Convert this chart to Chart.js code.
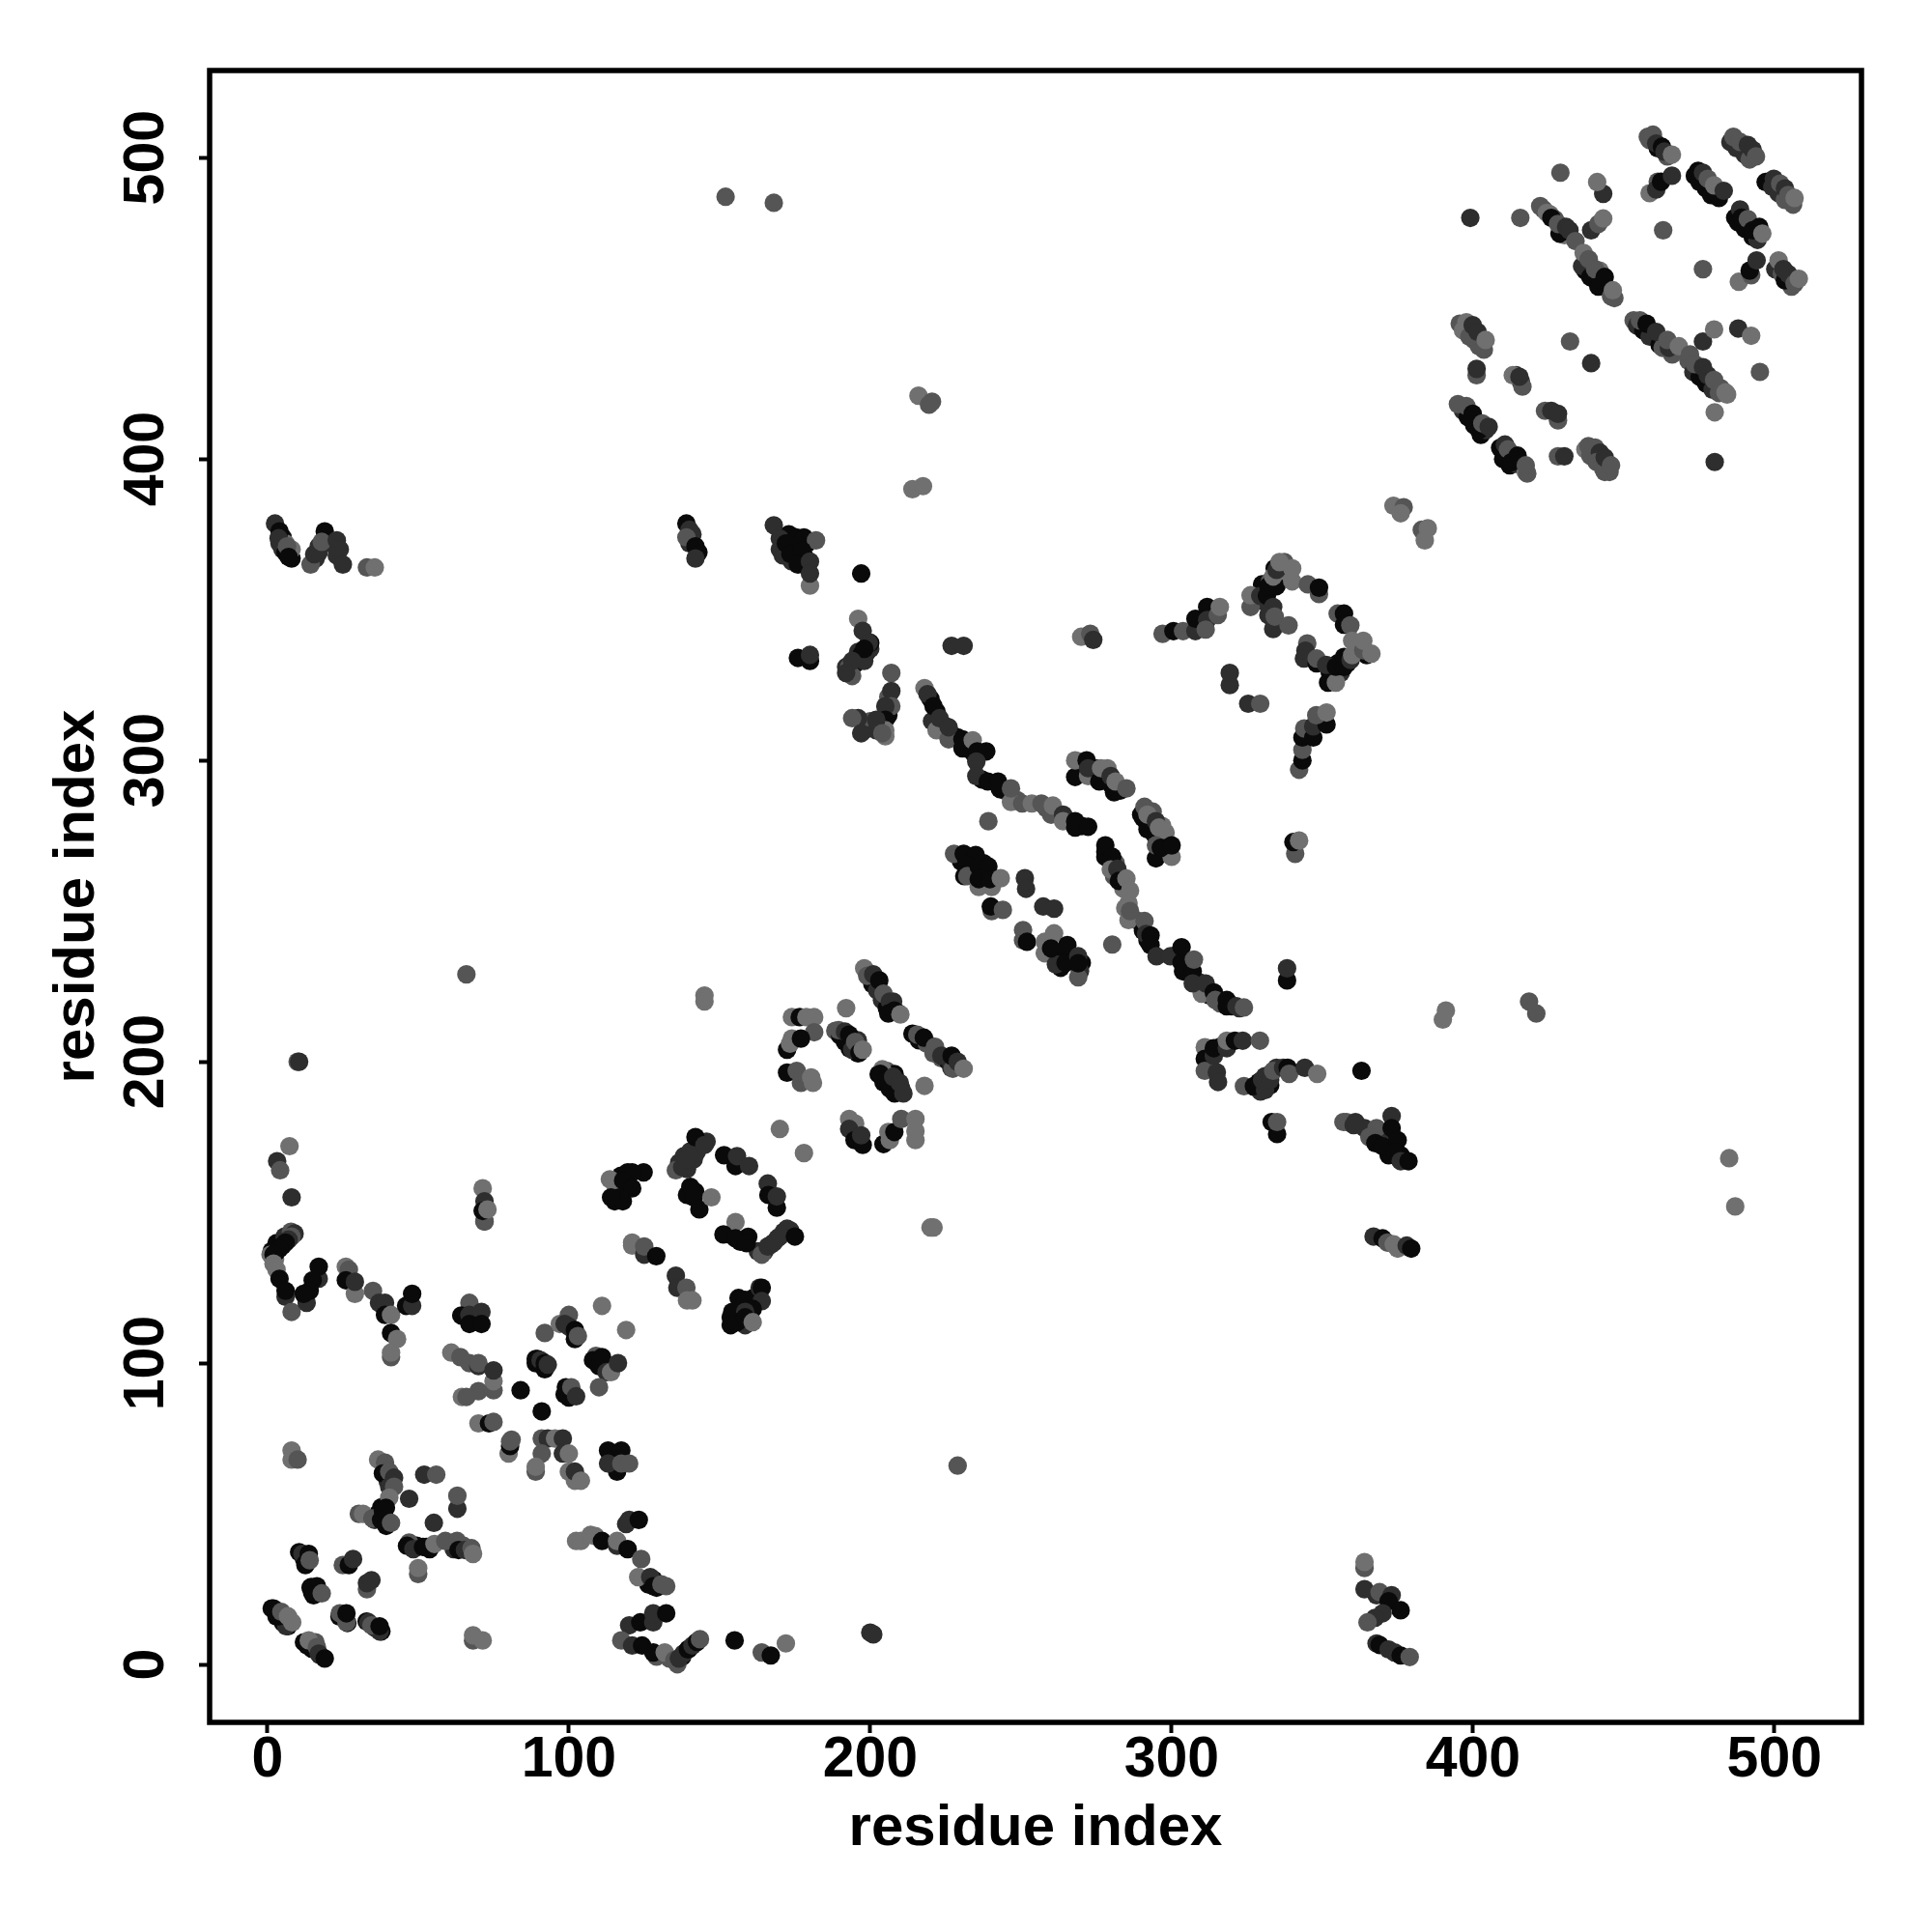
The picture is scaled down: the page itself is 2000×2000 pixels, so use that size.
<!DOCTYPE html>
<html><head><meta charset="utf-8">
<style>html,body{margin:0;padding:0;background:#fff}canvas{display:block}</style>
<script src="https://cdn.jsdelivr.net/npm/chart.js@4"></script>
</head><body><canvas id="c" width="2000" height="2000"></canvas>
<script>
const xTitle="residue index", yTitle="residue index";
const tickValues=[0,100,200,300,400,500];
const levelGray=["#0a0a0a","#2e2e2e","#555555","#707070"];
// [residue i, residue j, contact level]
const blockBackLower=[[3,139.8,0],[5.7,142,1],[7.8,143.6,2],[1.4,137.2,0],[2.5,134.5,3],[38.8,65,1],[39.9,60.8,1],[37.8,52.2,0],[36.7,50,0],[38.8,49,0],[35.6,48,1],[10.5,37.3,0],[12.1,35.1,0],[12.6,33,0],[13.7,35.1,2],[14.3,25.5,0],[14.8,23.9,0],[16.9,23.9,1],[23.9,15.9,0],[26.5,13.8,0],[32.9,14.3,0],[35.6,12.2,1],[37.8,11,0],[1.4,18.6,0],[3,15.9,0],[5.2,13.8,0],[6.8,12.7,0],[5.2,16,2],[12.1,7.4,0],[14.8,5.2,0],[17.4,3.1,1],[15.9,7.4,2],[126.4,26.6,0],[128,28.2,0],[129.1,25.5,0],[129.1,2.6,2],[133.4,2,2],[136,1.5,0],[137.6,2.6,0],[139.8,5.2,0],[142.4,7.4,1],[136,0.1,2],[49.5,39.4,0],[53.8,38.3,0],[61.3,40.5,2],[65,39.4,2],[61.8,38.3,1],[89.6,101.4,0],[101.3,89.6,2],[368,23,1]];
const blockBackCenter=[[200.7,225.8,0],[202.3,223.7,1],[203.9,220.5,1],[205.5,217.8,0],[207.6,220,1],[209.2,216.2,0],[214,209.3,0],[216.2,207.1,0],[218.8,206,2],[221,202.8,2],[223.6,201.2,2],[225.8,200.2,0],[226.9,198,1],[188.4,210.3,2],[190,208.7,0],[191.6,206.6,0],[193.2,204.4,0],[195.9,202.8,0],[195.9,207.1,1],[202.8,195.9,0],[204.4,193.2,0],[206.5,191.1,0],[208.1,189.5,0],[205.5,197,2],[208.1,195.9,0],[210.3,191.1,1],[136.6,166.5,1],[138.2,168.7,1],[140.3,170.3,1],[141.9,171.3,1],[143.5,171.9,1],[145.7,173.5,1],[139.2,164.4,1],[141.4,167.6,1],[162.7,137.1,1],[164.9,137.1,1],[167,139.3,1],[169.2,141.4,1],[171.3,143.6,1],[173.4,144.1,1],[153.7,142.5,0],[156.9,140.3,0],[159.5,141.9,0],[117.3,162.2,0],[119.5,163.3,0],[118.9,159,0],[115.2,153.7,0],[117.9,153.7,0],[141.9,156.9,0],[139.2,155.8,0],[167,155.8,0],[161.2,121.6,0],[156.3,121.6,0],[156.3,117.4,0],[158.5,112.6,1],[153.7,115.2,0],[192,331,1],[193,331,2],[195,332,0],[196,334,2],[196,336,1],[197,335,0],[199,336,0],[200,337,1],[200,339,0],[198,333,1],[194,328,2],[198,310,0],[204,312,1],[206,315,0],[206,321,2],[205,308,3],[200,313,2],[196,314,1]];
const blockBackDiagonal=[[220,320.4,0],[222,316.1,0],[220.5,313,1],[224.2,311.9,1],[226.9,308.7,1],[229,307.6,0],[232.2,303.9,0],[234.4,302.2,0],[237,293.7,0],[244.5,290,1],[248.8,286.8,2],[258.4,284.1,2],[262.2,282,1],[266.4,279.8,0],[270.2,278.2,0],[278,269.7,0],[281.4,266,2],[280.9,261.6,2],[284,257.4,3],[284.6,251,3],[288.9,246.7,2],[290.5,243.5,0],[292,240.3,0],[301.7,235.5,1],[305.4,232.8,0],[305.4,229.6,0],[309.2,226.4,1],[312.4,222.1,0],[316.1,219.4,2],[319.9,218.4,0],[322.5,217.8,1],[269.6,299.6,3],[275,297.4,1],[277.7,294.2,2],[279.8,292.1,0],[283,290,0],[278.7,297.4,3],[280.9,289.4,0],[289.9,282,0],[292,278.7,0],[293.7,283,2],[296.9,278.2,3],[294.2,275.5,0],[296.4,274.5,1],[230.1,266.5,0],[233.3,268,0],[237.6,265.9,0],[238.1,261.6,0],[231.2,261.6,0],[259.5,237.6,0],[261.6,234.9,0],[267,233.9,0],[265.4,235.5,0],[263.2,231.2,0],[270.2,232.8,0],[269.6,230.1,1],[327.3,191.7,0],[329,193.3,0],[331,195.2,1],[332.7,195.9,1],[334.8,198,1],[329.5,190.1,1],[332.7,192.2,0],[311.8,204.5,0],[316.1,205,1],[330,358.4,0],[331,356.2,0],[332.6,359.4,2],[334.2,363.7,0],[334.8,357.8,0],[337.4,365.8,2],[339,362.1,3],[328.4,353.6,1],[331,352.5,1],[352.4,329.5,0],[355.1,332.2,0],[356.1,329,1],[358.3,332.2,0],[361,335.9,2],[361.5,338,3],[362.6,338,2],[364.7,334.9,0],[354,326.9,2],[371,175,0],[372,172,0],[373,176,0],[369,174,1],[376,169,0],[372,169,0]];
const blockBackUpper=[[5,370,1],[4,372,1],[6,369,0],[8,367,0],[5,374,0],[16,367,1],[17,371,1],[20,373,1],[21,372,1],[23,368,1],[6,372,3],[8,370,3],[140,372,1],[143,369,0],[141,375,1],[172,370,0],[174,372,0],[176,371,0],[178,368,0],[171,368,1],[174,366,1],[178,365,1],[179,372,0],[173,375,0],
[423.4,482.8,2],[425.5,481.2,3],[427.1,479.6,2],[429.8,477,1],[432,474.3,2],[430.3,474.3,3],[437.3,466.8,2],[437.3,462.5,0],[439.4,463.6,2],[440,459.8,0],[442,462.5,3],[441.6,459.3,0],[444.2,457.2,0],[446.9,453.4,2],[458.6,505.8,2],[461.3,503.1,0],[464.5,500.4,2],[485.4,505.2,1],[487.5,503.1,1],[490.2,501,1],[491.8,499.4,2],[473.6,494,0],[475.2,491.9,0],[477.3,489.8,0],[479,487.6,0],[481.6,486.6,0],[497.1,491.9,0],[499.3,490.3,1],[501.4,488.2,1],[503.5,486,2],[506.2,484.4,2],[487,480.1,0],[488,478.5,0],[490.2,476.4,0],[492.8,473.7,0],[494.4,472.7,1],[500.3,463,1],[502.5,461.4,2],[505.7,457.2,2],[503.5,459.3,0],[395.6,444.9,2],[396.7,442.7,3],[400.4,439.5,2],[402,437.4,2],[403.6,436.3,2],[453.3,446,2],[454.4,444.3,1],[456.5,442.7,0],[458.6,440.6,1],[461.9,437.9,0],[462.9,436.9,2],[466.1,434.7,2],[471.5,432.6,2],[473.1,428.9,1],[475.2,427.3,0],[477.3,425.1,0],[479.5,423,1],[481.6,421.9,2],[484.3,421.4,3],[396.7,416,1],[398.3,413.9,0],[400.4,411.2,0],[402.6,408,0],[404.2,409.6,1],[409,403.7,0],[410,400,0],[412.2,397.9,0],[414.3,398.4,1],[417.5,395.7,3],[437.3,403.2,3],[438.9,401.1,2],[441.6,399.5,1],[443.2,396.8,2],[445.3,395.7,2],[414.3,427.8,1],[415.9,425.7,1]];
const blockLowerLeft=[[8,155,1],[9,143,1],[8,142,2],[7,141,1],[6,140,0],[5,139,0],[1,136,3],[4,138,0],[3,137,0],[2,136,0],[2,133,3],[3,131,3],[4,128,0],[6,122,1],[6,124,0],[8,117,2],[17,128,1],[17,132,0],[15,127.5,0],[13,120,1],[14,124,0],[12,123,0],[26,132,3],[27,131,2],[26,127.5,0],[29,123,3],[29,127,1],[35,124,2],[37,120,1],[39,120,1],[39,116,0],[41,116,3],[41,110,0],[43,108,3],[41,102,2],[41,103.5,3],[46,119,0],[48,119,1],[48,123,0],[71.4,158,3],[72,147,1],[72,147,2],[72,153.7,1],[71.4,150.5,0],[73,151,3],[7.3,172,3],[3.2,167,1],[4.2,164,2],
[67,120,2],[64.3,115.8,0],[67,116,1],[71,117,1],[67,113,0],[71,113,0],[61,103.5,3],[64,102,2],[67,100,2],[70,99,1],[70,100,2],[75,91,2],[75,94,3],[75,97.6,1],[70,90.7,2],[64.5,88.8,3],[66,88.8,2],[84,91,0],[91,84,0],[70,80,3],[73.5,80,0],[75,80.5,2],[80,70,3],[80.5,72.5,0],[80.5,74,2],[81,74.6,2],[91,75,2],[93,75,1],[95.4,75,3],[98,75,1],[91,70,2],[98,70,1],[100,70,3],[89,64,2],[89,65.6,3],[102,61,3],[100,64,3],[102,64,1],[104,61,3],[89,100,0],[89,101.4,0],[90.6,101,1],[92,98,0],[92,100,0],[93,99.5,1],[98.6,89.6,0],[100,88.6,0],[99,92,0],[100.8,92,2],[102.4,89,1],[92,110,2],[97,113,3],[100,116,2],[98.6,113,1],[100.2,112,1],[102,108,0],[102,111,0],[103,109,2],[111,119,3],[119,111,3],[109,102.4,2],[108,101,0],[110,99,0],[111,102,0],[112.5,97,1],[114,97,3],[116.3,100,1],[110,92,2],[113,71,0],[117.4,71,0],[116,64,0],[113,66.7,1],[117.4,66.7,2],[120,66.7,2],[8,71,3],[8,68,3],[10,68,2],
[36.7,68,3],[39,67,2],[38.3,63.4,0],[40.4,64,2],[42,62,1],[40.4,59,1],[42,59,2],[40.4,55.4,3],[30.3,50,2],[31.7,50,3],[34.8,48.5,2],[39.3,52,0],[38.3,51,0],[37.7,48,0],[39.4,46,0],[41,47,2],[52,63,1],[56,63,2],[47,55,1],[63,51.7,1],[63,56,2],[55.2,47,1],[50,30,2],[50,32,3],[47,40.5,2],[46.3,39.4,0],[48.4,38.3,1],[51.6,39,0],[52.7,39,0],[55.4,40,3],[59,41,2],[62.9,41,2],[63.4,38,0],[65.5,38,1],[67.7,38.6,2],[68.2,36.7,3],
[11.6,36.7,1],[13.7,36.7,0],[12.6,33.5,0],[14,34.6,2],[25,33,2],[27,33,0],[28.4,35,1],[33,25,2],[33,27,1],[34.5,28,1],[14.5,25.7,0],[16.4,26,0],[15.3,23,0],[18,23.6,2],[6.2,12.7,1],[2,18.6,0],[3.6,16,0],[4.6,17.5,2],[6.8,16,3],[8.2,14,3],[24,17,2],[26.2,14,2],[26.2,17,0],[37.2,11,1],[33.5,14,1],[34.5,13,2],[37.2,12.7,0],[13.2,6.3,0],[13.7,8,3],[16.4,5.8,2],[17,3.6,1],[19,2,0],[68.2,8,2],[68.2,9.7,3],[71.4,8,3]];
const blockLowerMiddle=[[102.4,41,3],[104,41,3],[107.2,43,3],[108.8,42.6,3],[111,41,0],[116,39.4,1],[116,41,3],[119.5,38.3,0],[119,46.6,1],[120,48,1],[123.2,48,0],[124,35,2],[123,29,3],[127,29,1],[128,26,0],[130.7,26.6,2],[132.3,26,2],[120,13,1],[123.7,14,0],[128,14,1],[128,17,1],[132.3,17,0],[117.4,8,2],[121,6.3,1],[124.3,6.3,0],[128,4,0],[131.8,4,3],[135,1.5,2],[136.5,2,1],[138,3.6,1],[139.5,5,0],[141,6.3,1],[142.5,7.5,0],[143.5,8.4,2],[155,8,0],[164,4,2],[167,3,0],[172,7,3],[200,10.6,1],[201,10,1],[229,66,2],
[364,32,2],[364,34,3],[364,25,1],[369,24,2],[373,23,1],[372,21,0],[376,18,0],[370,17,1],[367.5,15.5,1],[365,14,2],[368,7,1],[369,6.5,0],[372,5,1],[374,4,1],[376,3,0],[379,2.5,2]];
const blockCenterLow=[[145,222,3],[145,220,3],[198,231,3],[199,228.5,2],[201,229,1],[203,227,0],[204.4,222.6,2],[206.5,220,1],[206,216,0],[208,217,0],[210,215.7,3],[215.6,209,2],[217.8,208,0],[221.5,205,2],[223.6,202,1],[227.4,197.7,2],[227,202,0],[229,200,1],[231,197.7,3],[192,217.8,3],[189.5,210.5,2],[191.6,210,1],[193,209,0],[194,204,1],[195,206.6,2],[196.4,203,0],[197.5,204,3],[204,197.5,3],[203.3,196,0],[205.5,194,0],[207.6,195,1],[209,190,0],[209.8,193,1],[211,189.5,1],[218,192,3],
[174,214.8,3],[176.6,214.8,0],[178.8,214.8,3],[181.4,214.8,3],[181.4,209.8,2],[172.4,204,0],[174,207.7,3],[173.4,206,3],[177,207.7,0],[172.4,196.4,0],[175.6,197,2],[177,193,2],[180.4,194.8,3],[181,193,3],[193,181,3],[195,179.5,3],[193,177.7,1],[194.8,174,0],[197.5,172.4,0],[197,175.6,1],[204.4,172.7,0],[206,176.7,3],[206.5,174,3],[208,176.7,0],[210.3,181,2],[215,174,3],[215,177,3],[215,181,3],[170,177.7,3],[178,169.7,3],[220,145,3],[221,145,3],
[135.5,164,2],[137.6,165,1],[139.2,167.6,1],[142.4,170,1],[142,175,0],[145,172.4,1],[140.3,158.5,0],[141.4,155,0],[143.3,151,0],[147.3,155,3],[151.5,169,0],[155.3,165.4,0],[155.8,168.7,1],[159.8,165.4,1],[166,159.6,1],[166.2,155.8,0],[169,151.6,0],[169,155.3,1],[155.3,146.8,3],[151.3,142.7,0],[155.3,141.4,0],[159,139.8,0],[164,136,2],[166,138.7,1],[168,140,1],[170,142,1],[172.4,144.6,1],[175,142,0],
[113.6,161,3],[115.7,158,3],[124.8,163.3,0],[121,163.3,0],[118,160.6,0],[121,158,0],[116.8,155,0],[114,155,0],[121,139,3],[121,140,3],[125,136,1],[125,138.7,2],[129,135.5,0],[135.5,129,1],[136,125,1],[139,125,2],[139.2,120.8,3],[141,120.8,3],[163.3,125,1],[164,125,0],[158.5,121,0],[164,120.6,1],[161,118,0],[154.2,117,0],[158.5,117,1],[153.7,112.6,0],[155.8,113.6,0],[158.5,115.2,0],[161,113.6,3]];
const blockDiagonal=[[207,329,2],[207,323,1],[207,318,2],[205,318,1],[205,313.5,0],[205,310,3],[202,313.5,1],[202,310,1],[196,347,3],[197.5,343,1],[199.5,339,1],[198,337,0],[194,333,1],[192,329,1],[194,314,2],[197,309,1],[204,309,2],[197,362,0],[176,334,0],[180,333,0],[180,335,1],
[218,324,3],[219,322,1],[221,318,0],[222,310,3],[223,314,1],[226,307,2],[226,311,1],[230.6,304,0],[230.6,307,0],[234,306.7,3],[235.5,303,0],[238.5,303,0],[235.2,299.6,1],[235.2,294.8,1],[239,293,0],[242.4,293,0],[243,290.5,0],[246.7,286.2,3],[246.7,290.7,2],[250.4,285.7,2],[253.6,285.7,3],[256.8,285.7,2],[260,282,2],[260.6,285,3],[264,282,1],[264,279.8,3],[268,277.7,0],[268,279.8,0],[272.3,278,0],[278,268,0],[278,271.8,0],[280.3,268,0],[279.8,263.8,3],[282,264,1],[282.5,260,0],[285,260.8,3],[286.2,256.8,3],[285.7,247,3],[285.7,252.6,3],[286.2,250,2],[291,246.7,2],[291.5,242.4,1],[293,241.9,0],[293,238.7,0],[295,235,1],[299.6,235,1],[303.3,233,0],[303.3,238,0],[303.8,230,0],[307,230,0],[307.4,233.9,2],[310,222.6,3],[307,226,1],[311.3,226,1],[314,223,0],[314.5,220.5,2],[318.3,218.4,0],[318.3,220.5,0],[321.5,218.4,1],[324,218,2],
[268,294.5,0],[268,300,3],[271.8,300,0],[272.3,294.8,3],[272.3,297.4,1],[276,293,0],[276.6,297.4,3],[279.8,294.8,1],[281.4,290,0],[281.4,293,3],[285,290.7,2],[290.5,280.9,0],[291,284.6,2],[292,277.1,0],[292,282,3],[294.8,279.8,1],[295.8,277.7,3],[298,276,3],[294.8,267.5,0],[294.8,271.8,2],[300,268,3],[296.4,271,0],[300,271.8,0],
[239.2,279.8,2],[227.8,269,2],[231,269,0],[235,268.6,0],[231.7,265.4,0],[232.2,261.6,2],[236,258,3],[240.3,258,3],[236,264.8,0],[239.2,264.8,0],[236,260.6,0],[239.7,260.6,0],[243.3,260.9,3],[251.3,260.9,1],[251.7,257.4,1],[240.3,250,2],[240,251.5,0],[244,250.4,2],[257.4,251.5,1],[261,250.8,1],[250.7,240.3,2],[250.7,243.7,2],[252,239.8,0],[257.9,236,3],[257.9,239.8,3],[261,242.6,3],[261.6,232.3,1],[260,237.6,0],[264.8,232.8,0],[265.4,238.7,0],[269,228,2],[269,235,1],[269,232.7,0],[280.3,238.9,2],
[338.3,227,0],[338.3,231,1],[341,269,2],[340.4,272.9,0],[342.3,273.4,3],[342.3,296.9,2],[343.4,300,0],[343.4,303.5,2],[343.4,307.6,0],[344,310.6,2],[347,307.6,0],[347,311.3,1],[351.4,311.9,0],[348,315,2],[351.4,315.9,3],
[311,204.8,3],[311,201,0],[311,197,2],[314,202,1],[314,204.5,0],[315,196.5,1],[315.4,193.3,1],[318.3,204.5,1],[318.3,207,3],[321,207,0],[323.6,207,1],[329.3,207,2],[324,191.9,2],[327.3,191.9,0],[331,190.6,1],[330,194,1],[332.7,194,1],[333.7,197,2],[337,198,1],[338.5,198,0],[339,196,2],[344.2,198,1],[348.3,196,3],[335,176,0],[333.2,180,0],[335,180,2],
[363,197,0],[357,180,2],[358,180,2],[360.4,179,1],[361,180,1],[364,178,1],[368,178,2],[373,182,1],[373,178,0],[365.6,175,2],[367.6,173,0],[370,172,0],[375,174,0],[374,170,0],[376,167,1],[378.6,167,0],[367,142,1],[370,141.4,0],[371.6,140,2],[373.7,139.4,3],[375,138,3],[378,139,1],[379.5,138,0],
[485,168,3],[487,152,3],[390,214,3],[391,217,3],[418.6,220,2],[421,216,2],[66,229,2],[152,487,2],[168,485,2],[10,200,2],[10.5,200,1],[270,341,3],[273,342,2],[274,340,1],[227,338,1],[231,338,1],[216,421,3],[220.5,419,2],[219.5,418,2],[214,390,3],[217.5,391,3]];
const blockUpperLeft=[[2.5,378.6,1],[4,376,0],[3.7,373.7,1],[6.5,371,2],[7,367.5,0],[14.3,365,2],[15.5,368.4,1],[17,369,1],[19,376,0],[18,372.5,2],[23,373,1],[24,370,1],[25,365,1],[33,364,2],[35.6,364,3],[139,378.6,0],[140,376.5,1],[139,374,2],[142,371,0],[142,367,1],[168,378,1],[170,373.6,1],[170,370,1],[172,372,0],[175.4,374,0],[178,374,0],[182,373,2],[173.5,368.5,0],[177.4,369.6,0],[176,365,0],[180,366,1],[180,358,3],[180,362,1]];
const blockUpperMiddle=[[297,342,2],[300.6,342.9,0],[303.8,342.9,2],[307.9,342.9,1],[307.9,347,0],[311.8,350.9,0],[311.8,346.6,1],[311.3,343.4,2],[315.3,348.2,2],[316,350.9,3],[326.2,350.9,2],[326.2,354.8,3],[329.4,354.6,1],[331.6,354.6,0],[332.1,357.8,0],[333.7,361,3],[334.8,363.2,1],[335.8,365.8,3],[340,359.4,3],[340,363.7,3],[333.7,350.9,1],[332.1,348.2,1],[333.7,343.6,1],[334.2,347.7,2],[338.8,344.8,2],[345.2,358.4,2],[348.9,355.2,2],[348.9,357.3,0],[355.1,348.7,2],[357.2,348.7,0],[357.2,345,0],[359.3,344.8,2],
[345,338.8,2],[344.4,336.4,1],[343.9,333.8,1],[348.1,332.2,0],[348.1,333.8,2],[351.9,325.8,0],[354.5,325.8,3],[351.3,331.7,1],[354.5,331.1,0],[357.2,331,0],[357.2,334.3,0],[359.4,333.3,1],[359.9,334.9,3],[359.9,339.7,3],[363.6,336.5,2],[363.6,339.7,3],[366.3,335.4,3],[319.3,325,1],[319.3,329,1],[325.4,318.8,1],[329.4,318.8,2],[373.6,384.5,3],[377,384,2],[376,382,3],[383,376.5,2],[385,377,3],[384,373,3]];
const blockUpperRight=[[399.1,480,1],[415.7,480,2],[422.3,483.9,2],[424.5,481.7,3],[426,480,0],[428.7,474.8,0],[428.2,478,2],[430.9,477,1],[432,475.9,1],[434,472.3,2],[436.2,464,1],[436.7,468.4,3],[438.4,466.3,2],[438.9,460.4,0],[440.5,463,2],[441.6,457.2,0],[443.7,460.4,0],[445.8,454,2],[446.4,456,3],[429,495,2],[443.2,488,1],[441.2,491.9,3],[439.2,475.9,1],[441.6,478,2],[443.2,479.8,3],
[458,506.9,2],[459.7,507.6,2],[460.8,504.7,1],[462.7,503.6,0],[463.5,502,1],[466,501,3],[458.6,488.2,3],[461.3,492,2],[460.8,489.4,1],[462.4,492,0],[466,494,1],[463.1,475.9,2],[476.3,463,2],[486.4,506.9,2],[488.6,505.2,2],[491.2,504.2,1],[492.8,502.6,1],[493.9,500.4,2],[474.7,495.6,0],[476.3,495,1],[477.9,493,2],[480.6,488.2,0],[480,490.8,3],[483.2,489,1],[499.8,493,1],[501.9,491.4,2],[503.5,489.8,1],[504.6,487.6,2],[506.7,486.6,3],[488.6,482.8,1],[489.1,480.1,0],[491.2,479.6,2],[492.8,475.9,0],[495,477,0],[496,474.8,3],[488.2,458.8,3],[492.3,461,2],[491.8,462.5,0],[494.1,465.9,1],[501.4,465.9,3],[503,463,1],[504.6,461.4,1],[506.7,458.2,2],[508.1,459.8,3],
[397.8,445.4,3],[398.8,440.6,2],[399.9,444.4,1],[401.5,442.2,1],[404.2,439.5,3],[432.2,439,2],[439.2,431.8,1],[401.2,427.8,2],[401.2,429.9,1],[413.2,427.8,3],[416.4,424,2],[415.4,427.3,1],[455.4,446,2],[457.6,444.9,0],[460.8,442.2,1],[465,436.9,1],[464.5,439.5,2],[468.3,437.4,3],[472,434.7,2],[476.3,439,1],[480,443,3],[488,443.3,1],[492.3,440.9,3],[495.2,428.9,2],[473.6,431.5,2],[476.3,430.5,1],[477.9,427.8,1],[480,426.2,2],[482.2,423.5,2],[483.8,422.1,3],[480.2,415.5,3],[480.2,399,1],
[395,418.2,2],[397.8,417.6,2],[399.9,415,0],[402,409.6,0],[403.1,411.8,2],[405.2,410.7,1],[423.9,416,2],[428.2,412.8,2],[426,416,1],[428.2,415,1],[410.6,401.1,0],[410.6,404.8,1],[411.6,403.2,2],[412.7,398.9,0],[414.8,401.1,0],[418,395.2,2],[417.5,397.9,2],[428.2,400.9,2],[430.3,400.9,1],[438.3,404.3,2],[440.5,403.8,2],[442.1,402.1,1],[443.7,395.7,2],[441,399,2],[443.7,400.5,1],[445.8,397.9,2]];

const contacts=[...blockBackLower,...blockBackCenter,...blockBackDiagonal,...blockBackUpper,...blockLowerLeft,...blockLowerMiddle,...blockCenterLow,...blockDiagonal,...blockUpperLeft,...blockUpperMiddle,...blockUpperRight];
const boxPlugin={id:"box",afterDraw(ch){const a=ch.chartArea,c=ch.ctx;c.save();c.strokeStyle="#000";c.lineWidth=5.5;c.strokeRect(a.left,a.top,a.right-a.left,a.bottom-a.top);c.restore();}};
const labelFont={family:"'Liberation Sans'",size:60,weight:"bold"};
const tickFont={family:"'Liberation Sans'",size:59,weight:"bold"};
new Chart(document.getElementById("c"),{
  type:"scatter",
  data:{datasets:[{data:contacts.map(p=>({x:p[0],y:p[1]})),backgroundColor:contacts.map(p=>levelGray[p[2]]),pointRadius:9.6,pointHoverRadius:9.6,borderWidth:0}]},
  plugins:[boxPlugin],
  options:{responsive:false,animation:false,events:[],
    layout:{padding:{left:0,top:73,right:73,bottom:0}},
    plugins:{legend:{display:false},tooltip:{enabled:false},title:{display:false}},
    scales:{
      x:{type:"linear",min:-19.2,max:528.9,afterFit(s){s.height=217;},
        grid:{drawOnChartArea:false,drawTicks:true,tickLength:11,tickColor:"#000",tickWidth:4},
        border:{display:false},
        ticks:{color:"#000",font:tickFont,padding:-7,includeBounds:false,stepSize:100,autoSkip:false,maxRotation:0,minRotation:0},
        afterBuildTicks(s){s.ticks=tickValues.map(v=>({value:v}));},
        title:{display:true,text:xTitle,color:"#000",font:labelFont,padding:{top:0,bottom:71}}},
      y:{type:"linear",min:-19.2,max:528.9,afterFit(s){s.width=217;},
        grid:{drawOnChartArea:false,drawTicks:true,tickLength:11,tickColor:"#000",tickWidth:4},
        border:{display:false},
        ticks:{color:"#000",font:tickFont,padding:4,includeBounds:false,stepSize:100,autoSkip:false,minRotation:90,maxRotation:90,crossAlign:"center"},
        afterBuildTicks(s){s.ticks=tickValues.map(v=>({value:v}));},
        title:{display:true,text:yTitle,color:"#000",font:labelFont,padding:{top:44,bottom:0}}}
    }
  }
});
</script></body></html>
